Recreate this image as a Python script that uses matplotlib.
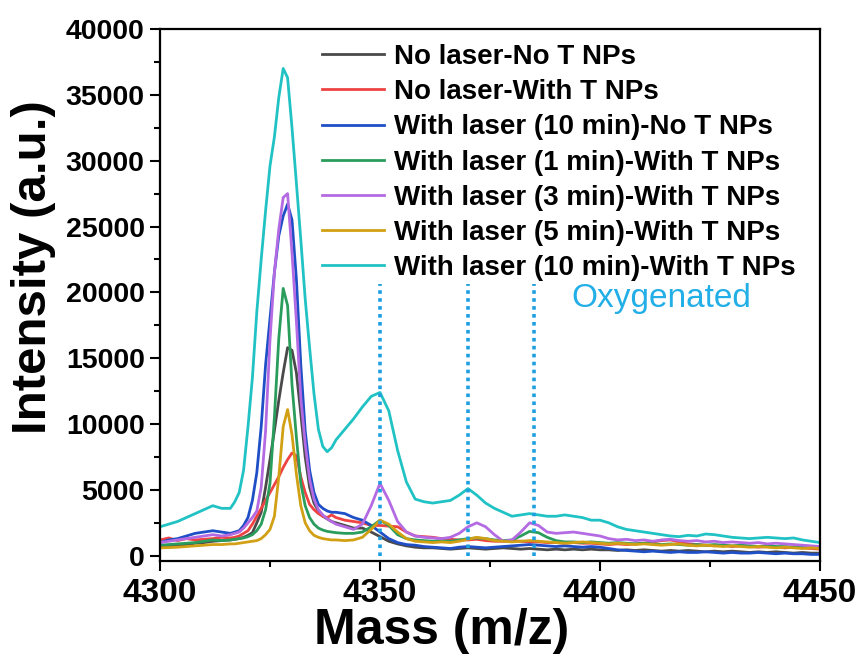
import matplotlib
matplotlib.use("Agg")
import matplotlib.pyplot as plt
from matplotlib.ticker import MultipleLocator

plt.rcParams['font.family'] = ['Liberation Sans', 'DejaVu Sans']
plt.rcParams['font.weight'] = 'bold'

# m/z sampling: 2 Da steps on the wings, 1 Da across the main peak
mass = ([4300, 4302, 4304, 4306, 4308, 4310, 4312, 4314, 4316]
        + list(range(4317, 4341))
        + list(range(4342, 4451, 2)))

no_laser_no_np = (
    [700, 750, 800, 850, 950, 1000, 1100, 1150, 1200]
    + [1250, 1300, 1400, 1550, 1750, 2500, 3300, 5200, 7300, 9500, 11800, 13900,
       15800, 15600, 13900, 10800, 7500, 5200, 4000, 3400, 3000, 2800, 2600, 2500]
    + [2300, 2100, 2100, 1800, 1450, 1100, 900, 750, 650, 600,
       600, 550, 500, 550, 600, 550, 500, 550, 600, 550,
       500, 550, 500, 450, 500, 450, 500, 450, 500, 450,
       450, 400, 450, 400, 450, 400, 350, 400, 350, 400,
       350, 300, 350, 300, 350, 300, 250, 300, 250, 300,
       250, 200, 250, 200, 200])

no_laser_np = (
    [1200, 1350, 1150, 1300, 1200, 1250, 1300, 1400, 1350]
    + [1400, 1500, 1700, 1900, 2400, 3000, 3600, 4200, 4800, 5400, 6000, 6700,
       7300, 7800, 7600, 6000, 4800, 3900, 3500, 3200, 3000, 2900, 3100, 2900]
    + [2700, 2600, 2500, 2300, 2300, 2250, 2200, 1800, 1500, 1450,
       1400, 1300, 1250, 1200, 1200, 1250, 1150, 1100, 1100, 1150,
       1100, 1050, 1050, 1000, 1000, 950, 1000, 950, 950, 900,
       850, 900, 850, 900, 950, 1050, 1150, 1200, 1050, 900,
       850, 800, 750, 800, 700, 750, 700, 650, 700, 650,
       600, 650, 600, 550, 500])

laser10_no_np = (
    [1000, 1200, 1300, 1500, 1700, 1800, 1900, 1800, 1700]
    + [1800, 1900, 2300, 2900, 4200, 6300, 9800, 14500, 18000, 21500, 24300, 25800,
       26700, 25500, 21000, 14500, 9500, 6500, 4800, 3900, 3600, 3400, 3300, 3300]
    + [3200, 2900, 2700, 2300, 1800, 1300, 1000, 850, 800, 700,
       650, 600, 550, 650, 700, 650, 600, 650, 700, 750,
       800, 850, 800, 750, 700, 750, 700, 650, 700, 650,
       550, 450, 400, 350, 300, 350, 300, 250, 300, 250,
       250, 300, 250, 200, 250, 200, 200, 250, 200, 150,
       200, 150, 150, 100, 100])

laser1_np = (
    [800, 850, 900, 950, 1000, 1100, 1200, 1150, 1200]
    + [1250, 1300, 1350, 1450, 1600, 1900, 2400, 3500, 5500, 10500, 16500, 20300,
       19000, 13000, 9000, 5500, 3800, 2900, 2400, 2100, 1950, 1850, 1800, 1750]
    + [1700, 1700, 1800, 2200, 2700, 2300, 1600, 1300, 1200, 1150,
       1100, 1150, 1100, 1200, 1300, 1350, 1300, 1200, 1150, 1200,
       1500, 1850, 1750, 1400, 1150, 1050, 1050, 1000, 1050, 1000,
       950, 1000, 950, 900, 950, 900, 850, 900, 850, 800,
       850, 800, 850, 800, 750, 800, 750, 700, 750, 700,
       700, 650, 700, 650, 600])

laser3_np = (
    [1000, 1100, 1200, 1300, 1400, 1500, 1600, 1500, 1600]
    + [1700, 1800, 2100, 2500, 2900, 3400, 5200, 9500, 16400, 21500, 24800, 27200,
       27500, 23000, 17800, 12000, 8500, 5800, 4300, 3500, 3100, 2800, 2600, 2400]
    + [2200, 2000, 2400, 3800, 5500, 4200, 2600, 1800, 1500, 1400,
       1350, 1300, 1400, 1700, 2200, 2500, 2200, 1600, 1100, 1200,
       1800, 2500, 2300, 1800, 1700, 1750, 1800, 1700, 1600, 1500,
       1300, 1200, 1250, 1150, 1200, 1100, 1200, 1250, 1150, 1100,
       1150, 1050, 1100, 1000, 1050, 1000, 950, 1000, 900, 950,
       900, 850, 800, 750, 700])

laser5_np = (
    [600, 620, 650, 700, 750, 800, 850, 850, 900]
    + [900, 950, 1000, 1050, 1100, 1150, 1300, 1600, 2000, 3000, 6000, 9800,
       11100, 9200, 6200, 3800, 2500, 1900, 1550, 1400, 1300, 1250, 1200, 1200]
    + [1150, 1200, 1400, 2000, 2700, 2400, 1800, 1300, 1100, 1050,
       1000, 1050, 1000, 1100, 1250, 1400, 1300, 1150, 1100, 1050,
       1100, 1150, 1100, 1050, 1000, 950, 1000, 1050, 1000, 950,
       900, 950, 900, 850, 900, 850, 800, 850, 900, 800,
       750, 800, 750, 700, 750, 700, 650, 700, 650, 600,
       650, 600, 550, 600, 550])

laser10_np = (
    [2200, 2400, 2600, 2900, 3200, 3500, 3800, 3600, 3600]
    + [4100, 4800, 6500, 9800, 13500, 18500, 22500, 26200, 29600, 31800, 34800, 37000,
       36300, 32500, 28300, 24000, 19500, 15800, 12300, 9600, 8300, 7900, 8200, 8800]
    + [9600, 10400, 11300, 12100, 12400, 11000, 8000, 5600, 4300, 4100,
       4000, 4100, 4200, 4600, 5100, 4600, 4000, 3600, 3300, 3000,
       3100, 3200, 3100, 3000, 3000, 3100, 3000, 2900, 2700, 2700,
       2500, 2200, 2000, 1900, 1800, 1700, 1600, 1500, 1450, 1550,
       1500, 1650, 1600, 1500, 1400, 1350, 1300, 1350, 1400, 1350,
       1300, 1350, 1200, 1100, 1000])

series = [
    ('No laser-No T NPs', no_laser_no_np, '#4a4a4a'),
    ('No laser-With T NPs', no_laser_np, '#ef4343'),
    ('With laser (10 min)-No T NPs', laser10_no_np, '#1f4fc6'),
    ('With laser (1 min)-With T NPs', laser1_np, '#2a9d5c'),
    ('With laser (3 min)-With T NPs', laser3_np, '#b36ae2'),
    ('With laser (5 min)-With T NPs', laser5_np, '#d2a014'),
    ('With laser (10 min)-With T NPs', laser10_np, '#21c2c4'),
]

# oxygenated adduct positions
oxy_mass = [4350, 4370, 4385]
oxy_top = 20600

fig = plt.figure(figsize=(8.62, 6.57), dpi=100)
ax = fig.add_axes([0.1856, 0.1461, 0.7657, 0.8098])

for label, y, c in series:
    assert len(y) == len(mass), label
    ax.plot(mass, y, color=c, lw=2.0, label=label)

ax.vlines(oxy_mass, 0, oxy_top, colors='#1e9fe0', linestyles=(0, (1, 1.2)), lw=2.6)
ax.text(4393.6, 19500, 'Oxygenated', color='#22aee6', fontsize=24,
        fontweight='normal', ha='left', va='center')

ax.set_xlim(4300, 4450)
ax.set_ylim(-400, 40000)
ax.xaxis.set_major_locator(MultipleLocator(50))
ax.xaxis.set_minor_locator(MultipleLocator(25))
ax.yaxis.set_major_locator(MultipleLocator(5000))
ax.yaxis.set_minor_locator(MultipleLocator(2500))
ax.tick_params(which='major', direction='out', length=7, width=1.5)
ax.tick_params(which='minor', direction='out', length=4, width=1.5)
ax.tick_params(axis='y', labelsize=20.5, pad=4)
ax.tick_params(axis='x', labelsize=24, pad=5)
for s in ax.spines.values():
    s.set_linewidth(1.6)

ax.set_xlabel('Mass (m/z)', fontsize=36, fontweight='bold')
ax.xaxis.set_label_coords(0.427, -0.088)
ax.set_ylabel('Intensity (a.u.)', fontsize=35.5, fontweight='bold')
ax.yaxis.set_label_coords(-0.158, 0.553)

ax.legend(loc='upper left', bbox_to_anchor=(322 / 862, 1 - 44 / 657),
          bbox_transform=fig.transFigure, frameon=False, fontsize=20,
          handlelength=2.23, handletextpad=0.38, labelspacing=0.33,
          borderpad=0, borderaxespad=0)

fig.savefig('out.png', dpi=100)
